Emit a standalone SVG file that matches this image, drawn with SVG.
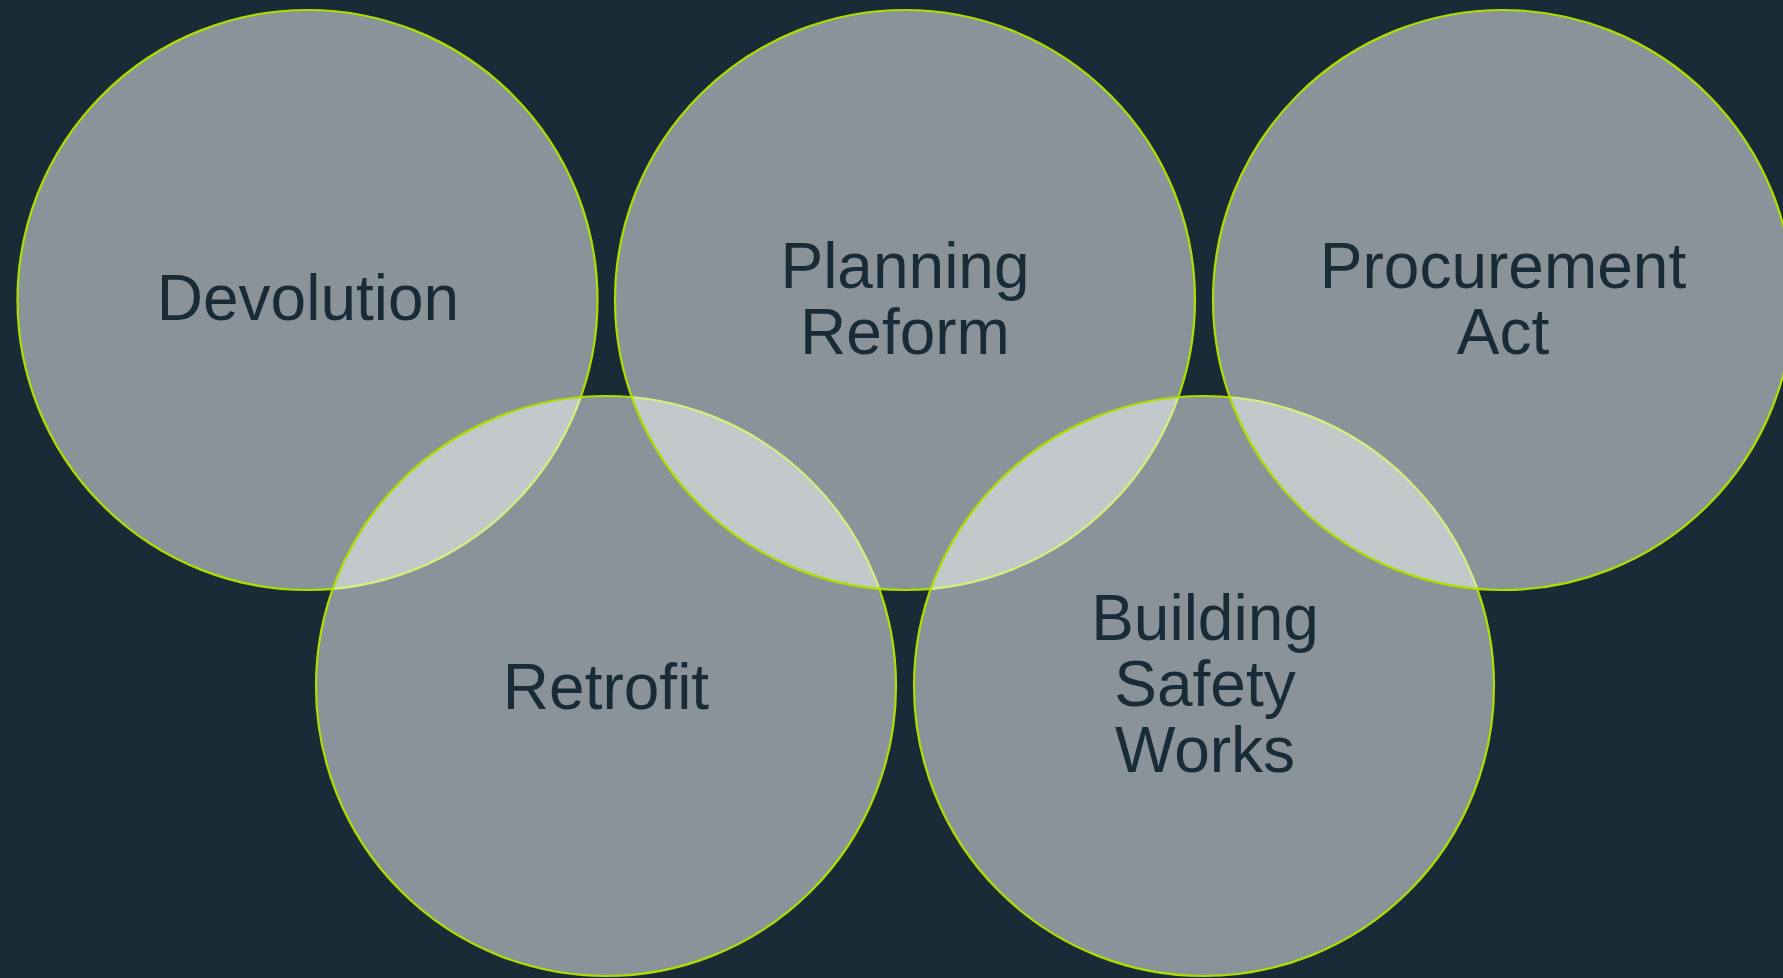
<svg xmlns="http://www.w3.org/2000/svg" width="1783" height="978" viewBox="0 0 1783 978">
  <style>
    .ring { fill: #ffffff; fill-opacity: 0.49; stroke: #acdf00; stroke-width: 2.2; }
    .label { font-family: "Liberation Sans", Arial, sans-serif; font-size: 64px; fill: #1a2b38; text-anchor: middle; }
  </style>
  <rect x="0" y="0" width="1783" height="978" fill="#1a2b38"/>

  <!-- circles are painted in sequence so later fills tint earlier outlines -->
  <g id="devolution">
    <circle class="ring" cx="307.5" cy="300" r="290"/>
    <text class="label" x="308" y="320">Devolution</text>
  </g>
  <g id="retrofit">
    <circle class="ring" cx="606" cy="686" r="290"/>
    <text class="label" x="606" y="709">Retrofit</text>
  </g>
  <g id="planning-reform">
    <circle class="ring" cx="905" cy="300" r="290"/>
    <text class="label" x="905" y="288">Planning</text>
    <text class="label" x="905" y="354">Reform</text>
  </g>
  <g id="building-safety-works">
    <circle class="ring" cx="1204" cy="686" r="290"/>
    <text class="label" x="1205" y="640">Building</text>
    <text class="label" x="1205" y="706">Safety</text>
    <text class="label" x="1205" y="772">Works</text>
  </g>
  <g id="procurement-act">
    <circle class="ring" cx="1503" cy="300" r="290"/>
    <text class="label" x="1503" y="288">Procurement</text>
    <text class="label" x="1503" y="354">Act</text>
  </g>

  <g id="connectors"/>
</svg>
